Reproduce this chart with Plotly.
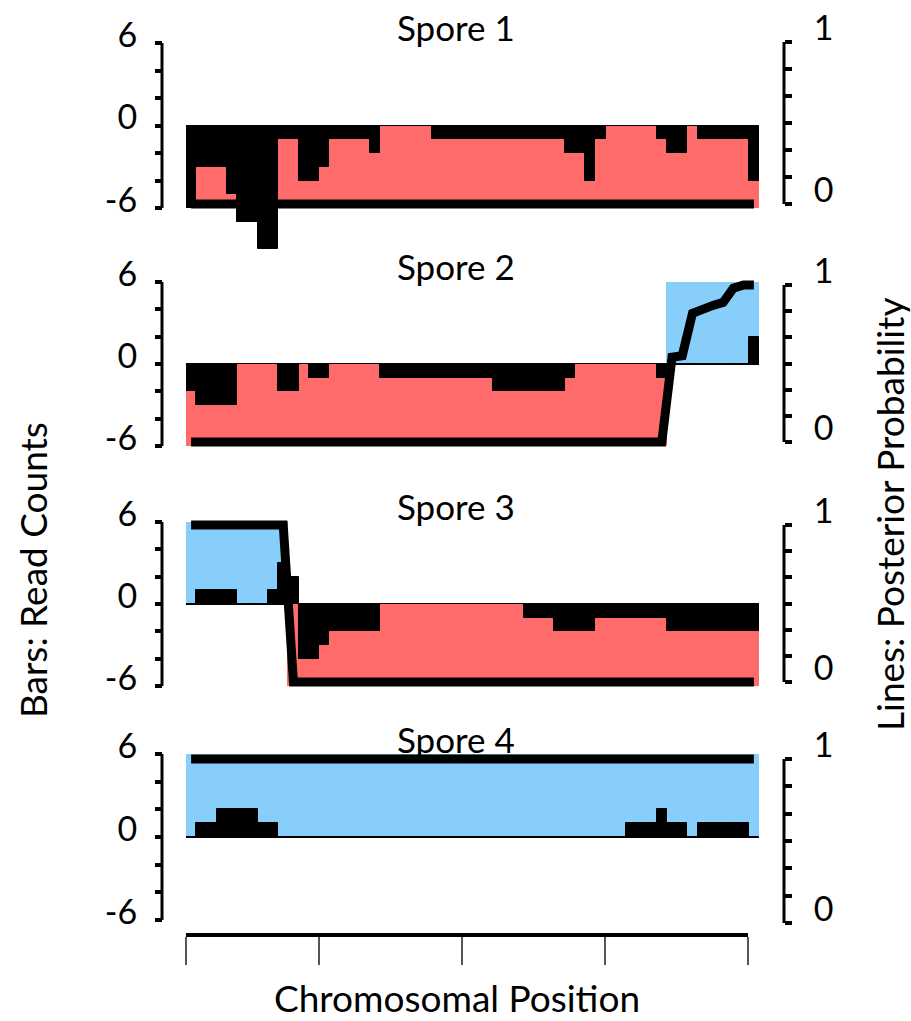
import plotly.graph_objects as go

W, H = 911, 1021
FONT = "Lato"

spore_titles = ["Spore 1", "Spore 2", "Spore 3", "Spore 4"]

# genotype call per bin (56 bins): R = red parent (bar down), B = blue parent (bar up)
genotype_1 = "RRRRRRRRRRRRRRRRRRRRRRRRRRRRRRRRRRRRRRRRRRRRRRRRRRRRRRRR"
genotype_2 = "RRRRRRRRRRRRRRRRRRRRRRRRRRRRRRRRRRRRRRRRRRRRRRRBBBBBBBBB"
genotype_3 = "BBBBBBBBBBRRRRRRRRRRRRRRRRRRRRRRRRRRRRRRRRRRRRRRRRRRRRRR"
genotype_4 = "BBBBBBBBBBBBBBBBBBBBBBBBBBBBBBBBBBBBBBBBBBBBBBBBBBBBBBBB"

# read counts per bin (negative = red-parent reads, positive = blue-parent reads)
counts_1 = [-6, -3, -3, -3, -5, -7, -7, -9, -9, -1, -1, -4, -4, -3, -1, -1,
            -1, -1, -2, 0, 0, 0, 0, 0, -1, -1, -1, -1, -1, -1, -1, -1,
            -1, -1, -1, -1, -1, -2, -2, -4, -1, 0, 0, 0, 0, 0, -1, -2,
            -2, 0, -1, -1, -1, -1, -1, -4]
counts_2 = [-2, -3, -3, -3, -3, 0, 0, 0, 0, -2, -2, 0, -1, -1, 0, 0,
            0, 0, 0, -1, -1, -1, -1, -1, -1, -1, -1, -1, -1, -1, -2, -2,
            -2, -2, -2, -2, -2, -1, 0, 0, 0, 0, 0, 0, 0, 0, -1, 0,
            0, 0, 0, 0, 0, 0, 0, 2]
counts_3 = [0, 1, 1, 1, 1, 0, 0, 0, 1, 3, 2, -4, -4, -3, -2, -2,
            -2, -2, -2, 0, 0, 0, 0, 0, 0, 0, 0, 0, 0, 0, 0, 0,
            0, -1, -1, -1, -2, -2, -2, -2, -1, -1, -1, -1, -1, -1, -1, -2,
            -2, -2, -2, -2, -2, -2, -2, -2]
counts_4 = [0, 1, 1, 2, 2, 2, 2, 1, 1, 0, 0, 0, 0, 0, 0, 0,
            0, 0, 0, 0, 0, 0, 0, 0, 0, 0, 0, 0, 0, 0, 0, 0,
            0, 0, 0, 0, 0, 0, 0, 0, 0, 0, 0, 1, 1, 1, 2, 1,
            1, 0, 1, 1, 1, 1, 1, 0]

# posterior probability per bin
posterior_1 = [0, 0, 0, 0, 0, 0, 0, 0, 0, 0, 0, 0, 0, 0, 0, 0,
               0, 0, 0, 0, 0, 0, 0, 0, 0, 0, 0, 0, 0, 0, 0, 0,
               0, 0, 0, 0, 0, 0, 0, 0, 0, 0, 0, 0, 0, 0, 0, 0,
               0, 0, 0, 0, 0, 0, 0, 0]
posterior_2 = [0, 0, 0, 0, 0, 0, 0, 0, 0, 0, 0, 0, 0, 0, 0, 0,
               0, 0, 0, 0, 0, 0, 0, 0, 0, 0, 0, 0, 0, 0, 0, 0,
               0, 0, 0, 0, 0, 0, 0, 0, 0, 0, 0, 0, 0, 0, 0, 0.54,
               0.55, 0.82, 0.85, 0.87, 0.89, 0.98, 1.0, 1.0]
posterior_3 = [1, 1, 1, 1, 1, 1, 1, 1, 1, 1, 0, 0, 0, 0, 0, 0,
               0, 0, 0, 0, 0, 0, 0, 0, 0, 0, 0, 0, 0, 0, 0, 0,
               0, 0, 0, 0, 0, 0, 0, 0, 0, 0, 0, 0, 0, 0, 0, 0,
               0, 0, 0, 0, 0, 0, 0, 0]
posterior_4 = [1, 1, 1, 1, 1, 1, 1, 1, 1, 1, 1, 1, 1, 1, 1, 1,
               1, 1, 1, 1, 1, 1, 1, 1, 1, 1, 1, 1, 1, 1, 1, 1,
               1, 1, 1, 1, 1, 1, 1, 1, 1, 1, 1, 1, 1, 1, 1, 1,
               1, 1, 1, 1, 1, 1, 1, 1]

left_ticks = [-6, -4, -2, 0, 2, 4, 6]
left_ticktext = ["-6", "", "", "0", "", "", "6"]
right_ticks = [0, 1 / 6, 2 / 6, 3 / 6, 4 / 6, 5 / 6, 1]
right_ticktext = ["0", "", "", "", "", "", "1"]
position_ticks = [0, 13, 27, 41, 55]

genotypes = [genotype_1, genotype_2, genotype_3, genotype_4]
counts = [counts_1, counts_2, counts_3, counts_4]
posteriors = [posterior_1, posterior_2, posterior_3, posterior_4]

RED = "#FF6A6A"
BLUE = "#87CEFA"
GENO_LEVEL = {"R": -6, "B": 6}
GENO_COLOR = {"R": RED, "B": BLUE}

# ---- layout geometry (pixels) ----
X0, X1 = 186, 759
LEFT_AX_X, RIGHT_AX_X = 162, 784
# top/bot: pixel rows of left-axis 6 / -6 ; p1/p0: pixel rows of right-axis 1 / 0
panels = [
    dict(top=43, bot=208, ymin=-9.3, p1=42, p0=204, title_y=27),
    dict(top=282, bot=446, ymin=-6, p1=285, p0=442, title_y=266),
    dict(top=522, bot=686, ymin=-6, p1=525, p0=682, title_y=506),
    dict(top=754, bot=920, ymin=-6, p1=759, p0=923, title_y=739),
]
PAD = 0.1


def px(x):
    return x / W


def py(y):
    return 1 - y / H


fig = go.Figure()
layout = dict(
    template="none",
    width=W, height=H, margin=dict(l=0, r=0, t=0, b=0, pad=0, autoexpand=False),
    paper_bgcolor="white", plot_bgcolor="rgba(0,0,0,0)",
    showlegend=False, barmode="overlay", bargap=0,
    font=dict(family=FONT, color="black", size=30),
)
shapes = []
annotations = []

for i in range(4):
    k = i + 1
    p = panels[i]
    n = len(counts[i])
    centers = [j + 0.5 for j in range(n)]
    xa, ya = f"x{k}", f"y{k}"
    xa_r, ya_r = f"x{k + 5}", f"y{k + 4}"

    geno = genotypes[i]
    gcol = [GENO_COLOR[g] for g in geno]
    fig.add_trace(go.Bar(
        x=centers, y=[GENO_LEVEL[g] for g in geno], width=1,
        marker=dict(color=gcol, line=dict(width=1, color=gcol)),
        xaxis=xa, yaxis=ya, hoverinfo="skip"))
    fig.add_trace(go.Bar(
        x=centers, y=counts[i], width=1,
        marker=dict(color="black", line=dict(width=1, color="black")),
        xaxis=xa, yaxis=ya, hoverinfo="skip"))

    ppu = (p["bot"] - p["top"]) / 12.0
    bottom_px = p["bot"] + (-6 - p["ymin"]) * ppu
    dom = [py(bottom_px), py(p["top"])]

    layout[f"xaxis{k}"] = dict(domain=[px(X0), px(X1)], range=[0, n],
                               anchor=ya, visible=False, fixedrange=True,
                               automargin=False)
    layout[f"yaxis{k}"] = dict(
        domain=dom, range=[p["ymin"], 6], anchor="free", position=px(LEFT_AX_X),
        tickvals=left_ticks, ticktext=left_ticktext, ticks="outside",
        ticklen=7, tickwidth=4, tickcolor="black", showline=False,
        showgrid=False, zeroline=True, zerolinecolor="black", zerolinewidth=1.5,
        tickfont=dict(size=34, family=FONT), ticklabelstandoff=11,
        ticklabelshift=-8, fixedrange=True, automargin=False)

    # posterior line subplot (own right axis)
    span = p["p0"] - p["p1"]
    r_dom = [py(p["p0"] + PAD * span), py(p["p1"] - PAD * span)]
    fig.add_trace(go.Scatter(
        x=centers, y=posteriors[i], mode="lines",
        line=dict(color="black", width=9),
        xaxis=xa_r, yaxis=ya_r, hoverinfo="skip"))
    layout[f"xaxis{k + 5}"] = dict(domain=[px(X0), px(X1)], range=[0, n],
                                   anchor=ya_r, visible=False, fixedrange=True,
                                   automargin=False)
    layout[f"yaxis{k + 4}"] = dict(
        domain=r_dom, range=[-PAD, 1 + PAD], side="right",
        anchor="free", position=px(RIGHT_AX_X),
        tickvals=right_ticks, ticktext=right_ticktext, ticks="outside",
        ticklen=7, tickwidth=4, tickcolor="black", showline=False,
        showgrid=False, zeroline=False,
        tickfont=dict(size=34, family=FONT), ticklabelstandoff=15,
        ticklabelshift=-14, fixedrange=True, automargin=False)

    shapes.append(dict(type="line", xref="paper", yref=ya,
                       x0=px(LEFT_AX_X), x1=px(LEFT_AX_X), y0=-6, y1=6,
                       line=dict(color="black", width=3), layer="above"))
    shapes.append(dict(type="line", xref="paper", yref=ya_r,
                       x0=px(RIGHT_AX_X), x1=px(RIGHT_AX_X), y0=0, y1=1,
                       line=dict(color="black", width=3), layer="above"))
    annotations.append(dict(text=spore_titles[i], x=px(456), y=py(p["title_y"]),
                            xref="paper", yref="paper", showarrow=False,
                            xanchor="center", yanchor="middle",
                            font=dict(size=35, family=FONT)))

# bottom chromosomal position axis
fig.add_trace(go.Scatter(x=[None], y=[None], xaxis="x5", yaxis="y4",
                         mode="lines", hoverinfo="skip"))
layout["xaxis5"] = dict(domain=[px(186), px(748)], range=[0, 55],
                        anchor="free", position=py(935),
                        showline=True, linewidth=4, linecolor="black",
                        ticks="outside", tickvals=position_ticks, ticklen=28,
                        tickwidth=1.5, tickcolor="#555555",
                        showticklabels=False, showgrid=False, zeroline=False,
                        fixedrange=True, automargin=False)

annotations.append(dict(text="Bars: Read Counts", x=px(32), y=py(570),
                        xref="paper", yref="paper", showarrow=False,
                        textangle=-90, xanchor="center", yanchor="middle",
                        font=dict(size=37, family=FONT)))
annotations.append(dict(text="Lines: Posterior Probability", x=px(889), y=py(515),
                        xref="paper", yref="paper", showarrow=False,
                        textangle=-90, xanchor="center", yanchor="middle",
                        font=dict(size=37, family=FONT)))
annotations.append(dict(text="Chromosomal Position", x=px(457), y=py(997),
                        xref="paper", yref="paper", showarrow=False,
                        xanchor="center", yanchor="middle",
                        font=dict(size=37, family=FONT)))

layout["shapes"] = shapes
layout["annotations"] = annotations
fig.update_layout(**layout)
fig.write_html("out.html")
